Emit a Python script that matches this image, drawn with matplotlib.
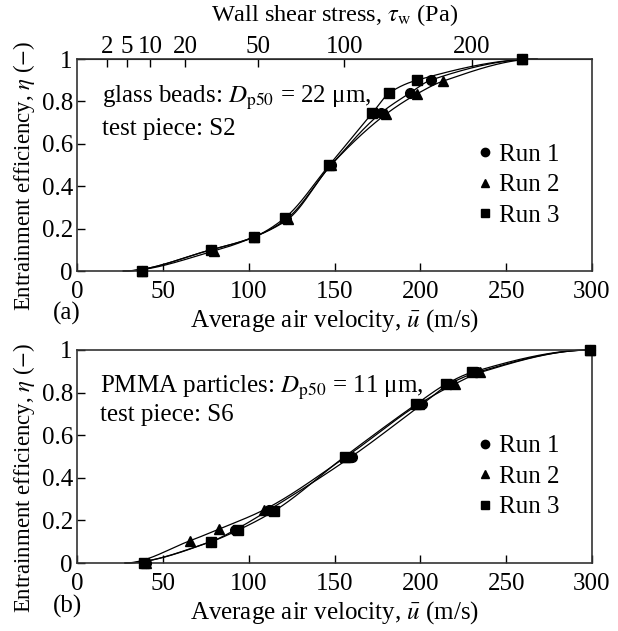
import numpy as np
import matplotlib
matplotlib.use("Agg")
import matplotlib.pyplot as plt
from matplotlib.lines import Line2D

plt.rcParams['font.family'] = ['Liberation Serif', 'DejaVu Serif']
plt.rcParams['mathtext.fontset'] = 'stix'
plt.rcParams['font.size'] = 18

# ---------------- data ----------------
runs = ["Run 1", "Run 2", "Run 3"]
markers = ["o", "^", "s"]

# (a) glass beads, S2
a_u1 = [38, 78, 103, 122, 148, 177, 194, 206, 259]
a_e1 = [0.0, 0.10, 0.16, 0.245, 0.50, 0.745, 0.84, 0.90, 1.0]
a_u2 = [38, 80, 103, 123, 148, 180, 198, 213, 259]
a_e2 = [0.0, 0.095, 0.16, 0.245, 0.50, 0.74, 0.835, 0.895, 1.0]
a_u3 = [38, 78, 103, 121, 147, 172, 182, 198, 259]
a_e3 = [0.0, 0.10, 0.16, 0.25, 0.50, 0.745, 0.84, 0.90, 1.0]
a_curve_start = [27, 27, 27]
a_curve_end = [268, 268, 268]

# (b) PMMA particles, S6
b_u1 = [40, 78, 92, 112, 160, 201, 217, 233, 299]
b_e1 = [0.0, 0.10, 0.155, 0.25, 0.50, 0.745, 0.84, 0.895, 1.0]
b_u2 = [40, 66, 83, 109, 157, 199, 220, 235, 299]
b_e2 = [0.0, 0.105, 0.16, 0.25, 0.50, 0.745, 0.84, 0.895, 1.0]
b_u3 = [39, 78, 94, 115, 156, 197.5, 215, 230, 299]
b_e3 = [0.0, 0.10, 0.155, 0.245, 0.50, 0.745, 0.84, 0.895, 1.0]
b_curve_start = [28, 28, 28]
b_curve_end = [299, 299, 299]

x_ticks = [0, 50, 100, 150, 200, 250, 300]
y_ticks = [0, 0.2, 0.4, 0.6, 0.8, 1.0]
y_ticklabels = ["0", "0.2", "0.4", "0.6", "0.8", "1"]
tau_ticks = [2, 5, 10, 20, 50, 100, 200]

U_AT_100PA = 155.8
TAU_EXP = 1.78


def pchip(xk, yk, xs):
    xk = np.asarray(xk, float)
    yk = np.asarray(yk, float)
    h = np.diff(xk)
    d = np.diff(yk) / h
    n = len(xk)
    m = np.zeros(n)
    for k in range(1, n - 1):
        if d[k - 1] * d[k] > 0:
            w1 = 2 * h[k] + h[k - 1]
            w2 = h[k] + 2 * h[k - 1]
            m[k] = (w1 + w2) / (w1 / d[k - 1] + w2 / d[k])
    ys = np.empty_like(xs)
    for i, x in enumerate(xs):
        k = np.clip(np.searchsorted(xk, x) - 1, 0, n - 2)
        t = (x - xk[k]) / h[k]
        h00 = 2 * t**3 - 3 * t**2 + 1
        h10 = t**3 - 2 * t**2 + t
        h01 = -2 * t**3 + 3 * t**2
        h11 = t**3 - t**2
        ys[i] = h00 * yk[k] + h10 * h[k] * m[k] + h01 * yk[k + 1] + h11 * h[k] * m[k + 1]
    return ys


def draw_panel(ax, series, starts, ends):
    for (u, e), mk, lab, s0, s1 in zip(series, markers, runs, starts, ends):
        u = np.asarray(u, float)
        e = np.asarray(e, float)
        inner = (e > 0) & (e < 1)
        xk = np.concatenate([[s0], u[inner], [s1]])
        yk = np.concatenate([[0.0], e[inner], [1.0]])
        xs = np.linspace(s0, s1, 400)
        ax.plot(xs, pchip(xk, yk, xs), color='black', lw=0.9, zorder=2, clip_on=False)
        ax.plot(u, e, linestyle='none', marker=mk, ms=7, color='black', zorder=3,
                clip_on=False)
    ax.set_xlim(0, 300)
    ax.set_ylim(0, 1)
    ax.set_xticks(x_ticks)
    ax.set_xticklabels([str(v) for v in x_ticks])
    ax.set_yticks(y_ticks)
    ax.set_yticklabels(y_ticklabels)
    ax.tick_params(direction='in', length=6, width=1, top=False, right=False)
    ax.tick_params(axis='x', pad=7)
    ax.tick_params(axis='y', pad=3)
    for sp in ax.spines.values():
        sp.set_linewidth(1.2)
        sp.set_color('#333333')
    ax.set_xlabel(r"Average air velocity, $\bar{u}$ (m/s)", labelpad=3)
    handles = [Line2D([], [], linestyle='none', marker=m, ms=6, color='black') for m in markers]
    ax.legend(handles, runs, loc='center left', bbox_to_anchor=(0.773, 0.405),
              frameon=False, borderpad=0, borderaxespad=0, handlelength=0.8,
              handletextpad=0.15, labelspacing=0.32, fontsize=18)


fig = plt.figure(figsize=(6.18, 6.31), dpi=100)
ax1 = fig.add_axes([77 / 618, 1 - 271 / 631, 515 / 618, 212 / 631])
ax2 = fig.add_axes([77 / 618, 1 - 563 / 631, 515 / 618, 213 / 631])

draw_panel(ax1, [(a_u1, a_e1), (a_u2, a_e2), (a_u3, a_e3)], a_curve_start, a_curve_end)
draw_panel(ax2, [(b_u1, b_e1), (b_u2, b_e2), (b_u3, b_e3)], b_curve_start, b_curve_end)


def fwd(u):
    u = np.asarray(u, float)
    return 100.0 * (np.clip(u, 1e-9, None) / U_AT_100PA) ** TAU_EXP


def inv(t):
    t = np.asarray(t, float)
    return U_AT_100PA * (np.clip(t, 1e-9, None) / 100.0) ** (1.0 / TAU_EXP)


sec = ax1.secondary_xaxis('top', functions=(fwd, inv))
sec.set_xticks(tau_ticks)
sec.set_xticklabels([str(v) for v in tau_ticks])
sec.tick_params(direction='in', length=6, width=1, pad=0.5)
sec.minorticks_off()
sec.set_xlabel(r"Wall shear stress, $\tau_{\rm w}$ (Pa)", labelpad=11, fontsize=17.5)

ylab = r"Entrainment efficiency, $\eta$ ($-$)"
ax1.set_ylabel(ylab, fontsize=16.5)
ax1.yaxis.set_label_coords(-0.078, 0.45)
ax2.set_ylabel(ylab, fontsize=16.5)
ax2.yaxis.set_label_coords(-0.078, 0.40)

# annotations
ax1.text(14.5, (271 - 98) / 212, r"glass beads: $D_{\rm p50}$ = 22 μm,", ha='left', va='center')
ax1.text(14.5, (271 - 129) / 212, "test piece: S2", ha='left', va='center')
ax2.text(13.5, (563 - 388) / 213, r"PMMA particles: $D_{\rm p50}$ = 11 μm,", ha='left', va='center')
ax2.text(13.5, (563 - 415) / 213, "test piece: S6", ha='left', va='center')

fig.text(67 / 618, 1 - 313 / 631, "(a)", ha='center', va='center')
fig.text(67 / 618, 1 - 606 / 631, "(b)", ha='center', va='center')

fig.savefig("out.png", dpi=100)
